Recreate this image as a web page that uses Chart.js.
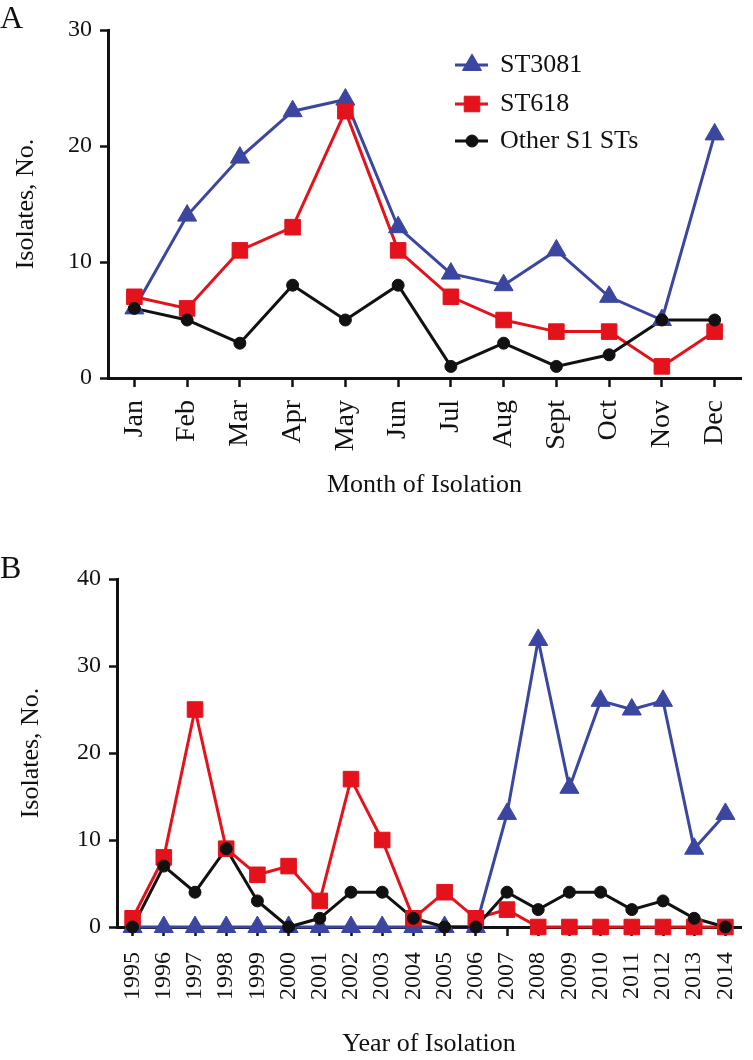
<!DOCTYPE html>
<html>
<head>
<meta charset="utf-8">
<script src="https://cdn.jsdelivr.net/npm/chart.js@4.4.1/dist/chart.umd.min.js"></script>
<style>
  body { margin: 0; background: #fff; }
  #wrap { position: relative; width: 753px; height: 1060px; }
  .panel { position: absolute; left: 0; width: 753px; }
  .tag { position: absolute; left: 0; font: 32px 'Liberation Serif', serif; line-height: 32px; color: #111; }
</style>
</head>
<body>
<div id="wrap">
  <div class="panel" style="top:0"><canvas id="chartA" width="753" height="540"></canvas></div>
  <div class="panel" style="top:540px"><canvas id="chartB" width="753" height="520"></canvas></div>
  <div class="tag" style="top:1px">A</div>
  <div class="tag" style="top:551px">B</div>
</div>
<script>
// panel A - by month
const months = ['Jan', 'Feb', 'Mar', 'Apr', 'May', 'Jun', 'Jul', 'Aug', 'Sept', 'Oct', 'Nov', 'Dec'];
const st3081Month = [6, 14, 19, 23, 24, 13, 9, 8, 11, 7, 5, 21];
const st618Month = [7, 6, 11, 13, 23, 11, 7, 5, 4, 4, 1, 4];
const otherMonth = [6, 5, 3, 8, 5, 8, 1, 3, 1, 2, 5, 5];

// panel B - by year
const years = ['1995', '1996', '1997', '1998', '1999', '2000', '2001', '2002', '2003', '2004',
               '2005', '2006', '2007', '2008', '2009', '2010', '2011', '2012', '2013', '2014'];
const st3081Year = [0, 0, 0, 0, 0, 0, 0, 0, 0, 0, 0, 0, 13, 33, 16, 26, 25, 26, 9, 13];
const st618Year = [1, 8, 25, 9, 6, 7, 3, 17, 10, 1, 4, 1, 2, 0, 0, 0, 0, 0, 0, 0];
const otherYear = [0, 7, 4, 9, 3, 0, 1, 4, 4, 1, 0, 0, 4, 2, 4, 4, 2, 3, 1, 0];

const yTicksA = [0, 10, 20, 30];
const yTicksB = [0, 10, 20, 30, 40];

const BLUE = '#3a46a0';
const RED = '#e3121b';
const BLACK = '#111111';
const FONT = "'Liberation Serif', serif";

const seriesInfo = [
    { label: 'ST3081', color: BLUE, style: 'triangle', radius: 11 },
    { label: 'ST618', color: RED, style: 'rect', radius: 11 },
    { label: 'Other S1 STs', color: BLACK, style: 'circle', radius: 6 }
];

// lines first, then all the symbols on top (like the original figure)
function buildDatasets(seriesData) {
    const sets = [];
    seriesInfo.forEach((s, i) => {
        sets.push({
            label: s.label, data: seriesData[i], borderColor: s.color, borderWidth: 3,
            pointRadius: 0, order: 6 - i, clip: false
        });
    });
    seriesInfo.forEach((s, i) => {
        sets.push({
            label: s.label, data: seriesData[i], showLine: false,
            pointStyle: s.style, pointRadius: s.radius,
            pointBackgroundColor: s.color, pointBorderColor: s.color, pointBorderWidth: 1,
            order: 3 - i, clip: false
        });
    });
    return sets;
}

const insideLegend = {
    id: 'insideLegend',
    afterDraw(chart) {
        if (!chart.options.plugins.insideLegend.show) return;
        const ctx = chart.ctx;
        const rowsY = [65, 104, 141];
        ctx.save();
        seriesInfo.forEach((s, i) => {
            const y = rowsY[i];
            ctx.strokeStyle = s.color;
            ctx.fillStyle = s.color;
            ctx.lineWidth = 3;
            ctx.beginPath();
            ctx.moveTo(455, y);
            ctx.lineTo(488, y);
            ctx.stroke();
            ctx.lineWidth = 1;
            Chart.helpers.drawPoint(ctx, { pointStyle: s.style, radius: s.radius, rotation: 0, borderWidth: 1 }, 472, y);
            ctx.fillStyle = BLACK;
            ctx.font = '26px ' + FONT;
            ctx.textBaseline = 'middle';
            ctx.textAlign = 'left';
            ctx.fillText(s.label, 500, y);
        });
        ctx.restore();
    }
};

function makeChart(id, labels, seriesData, yTicks, xTitle, box, legend) {
    const yMax = yTicks[yTicks.length - 1];
    return new Chart(document.getElementById(id), {
        type: 'line',
        data: { labels: labels, datasets: buildDatasets(seriesData) },
        plugins: [insideLegend],
        options: {
            responsive: false,
            animation: false,
            layout: { padding: { left: 0, right: box.padRight, top: box.padTop, bottom: box.padBottom } },
            plugins: {
                legend: { display: false },
                tooltip: { enabled: false },
                insideLegend: { show: legend }
            },
            scales: {
                x: {
                    offset: true,
                    grid: { drawOnChartArea: false, drawTicks: true, tickLength: 9, tickWidth: 2.5, tickColor: BLACK },
                    border: { display: true, color: BLACK, width: 3 },
                    ticks: {
                        color: BLACK, font: { family: FONT, size: box.xTickSize },
                        minRotation: 90, maxRotation: 90, autoSkip: false, padding: box.xTickPad
                    },
                    title: { display: true, text: xTitle, color: BLACK, font: { family: FONT, size: 26 }, padding: 0 },
                    afterFit: (scale) => {
                        scale.height = box.xHeight;
                        scale.paddingLeft = 0;
                        scale.paddingRight = 0;
                    }
                },
                y: {
                    min: 0,
                    max: yMax,
                    afterBuildTicks: (scale) => { scale.ticks = yTicks.map(v => ({ value: v })); },
                    grid: { drawOnChartArea: false, drawTicks: true, tickLength: 8, tickWidth: 2.5, tickColor: BLACK },
                    border: { display: true, color: BLACK, width: 3 },
                    ticks: { color: BLACK, font: { family: FONT, size: 24 }, padding: 8 },
                    title: { display: true, text: 'Isolates, No.', color: BLACK, font: { family: FONT, size: 26 }, padding: { top: box.yTitlePad, bottom: 0 } },
                    afterFit: (scale) => { scale.width = box.yWidth; }
                }
            }
        }
    });
}

makeChart('chartA', months, [st3081Month, st618Month, otherMonth], yTicksA, 'Month of Isolation',
    { yWidth: 108, padRight: 11, padTop: 30, xHeight: 123, padBottom: 39, yTitlePad: 11, xTickPad: 13, xTickSize: 28 }, true);

makeChart('chartB', years, [st3081Year, st618Year, otherYear], yTicksB, 'Year of Isolation',
    { yWidth: 117, padRight: 3, padTop: 39, xHeight: 133, padBottom: 0, yTitlePad: 16, xTickPad: 16, xTickSize: 24 }, false);
</script>
</body>
</html>
